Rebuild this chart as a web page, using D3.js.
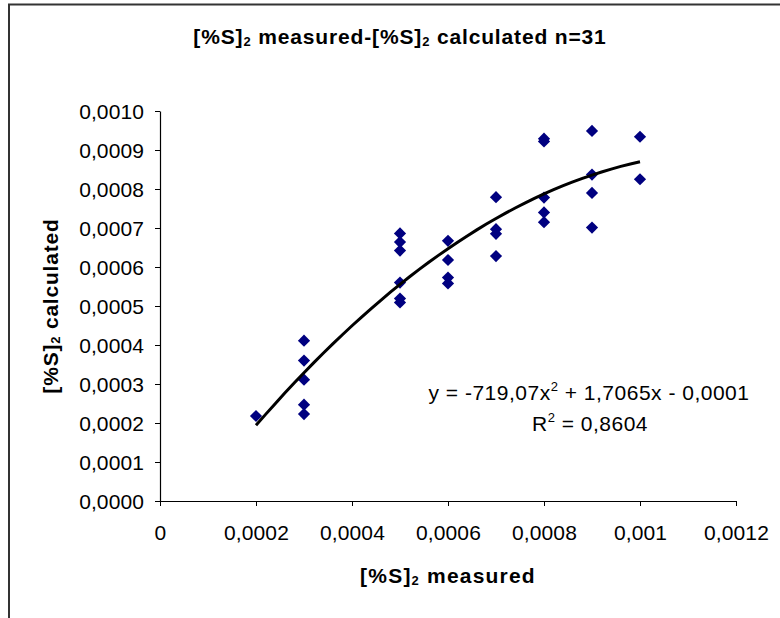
<!DOCTYPE html>
<html>
<head>
<meta charset="utf-8">
<script src="https://cdn.jsdelivr.net/npm/d3@7"></script>
<style>
  body { margin: 0; background: #fff; }
  text { font-family: "Liberation Sans", Arial, sans-serif; fill: #000; }
</style>
</head>
<body>
<div id="chart"></div>
<script>
// measured values (x) and calculated values (y), n = 31
var measured = [
    0.0002,
    0.0003, 0.0003, 0.0003, 0.0003, 0.0003,
    0.0005, 0.0005, 0.0005, 0.0005, 0.0005, 0.0005,
    0.0006, 0.0006, 0.0006, 0.0006,
    0.0007, 0.0007, 0.0007, 0.0007,
    0.0008, 0.0008, 0.0008, 0.0008, 0.0008,
    0.0009, 0.0009, 0.0009, 0.0009,
    0.001, 0.001
];
var calculated = [
    0.000218,
    0.000411, 0.000360, 0.000311, 0.000247, 0.000223,
    0.000686, 0.000664, 0.000642, 0.000560, 0.000519, 0.000509,
    0.000667, 0.000618, 0.000573, 0.000558,
    0.000779, 0.000697, 0.000685, 0.000628,
    0.000929, 0.000922, 0.000778, 0.000740, 0.000715,
    0.000949, 0.000837, 0.000790, 0.000701,
    0.000934, 0.000825
];
var xTicks = [0, 0.0002, 0.0004, 0.0006, 0.0008, 0.001, 0.0012];
var xTickLabels = ["0", "0,0002", "0,0004", "0,0006", "0,0008", "0,001", "0,0012"];
var yTicks = [0, 0.0001, 0.0002, 0.0003, 0.0004, 0.0005, 0.0006, 0.0007, 0.0008, 0.0009, 0.001];
var yTickLabels = ["0,0000", "0,0001", "0,0002", "0,0003", "0,0004", "0,0005",
    "0,0006", "0,0007", "0,0008", "0,0009", "0,0010"];
var equationText = ["y = -719,07x", "2", " + 1,7065x - 0,0001"];
var r2Text = ["R", "2", " = 0,8604"];

var W = 780, H = 618;
var margin = { top: 111, right: 44, bottom: 117, left: 160 },
    width = W - margin.left - margin.right,
    height = H - margin.top - margin.bottom;

var svgRoot = d3.select("#chart")
    .append("svg")
    .attr("width", W)
    .attr("height", H);

// chart area border (only left and top edges fall inside the picture)
svgRoot.append("rect")
    .attr("x", 9)
    .attr("y", 4.5)
    .attr("width", 900)
    .attr("height", 900)
    .attr("fill", "none")
    .attr("stroke", "#333")
    .attr("stroke-width", 2);

var svg = svgRoot.append("g")
    .attr("transform", "translate(" + margin.left + "," + margin.top + ")");

var x = d3.scaleLinear().domain([0, 0.0012]).range([0, width]);
var y = d3.scaleLinear().domain([0, 0.001]).range([height, 0]);

// axes
var xAxis = svg.append("g")
    .attr("transform", "translate(0," + height + ")")
    .call(d3.axisBottom(x).tickValues(xTicks).tickSize(5).tickSizeOuter(0)
        .tickFormat(function (d, i) { return xTickLabels[i]; }));
var yAxis = svg.append("g")
    .call(d3.axisLeft(y).tickValues(yTicks).tickSize(5).tickSizeOuter(0)
        .tickFormat(function (d, i) { return yTickLabels[i]; }));

[xAxis, yAxis].forEach(function (a) {
    a.select(".domain").attr("stroke", "#000").attr("stroke-width", 1.2);
    a.selectAll(".tick line").attr("stroke", "#000");
    a.selectAll(".tick text")
        .style("font-family", "'Liberation Sans', Arial, sans-serif")
        .style("font-size", "21px")
        .style("letter-spacing", "0.1px")
        .attr("fill", "#000");
});
yAxis.selectAll(".tick text").attr("x", -16).attr("dy", "0.35em");
xAxis.selectAll(".tick text").attr("y", 24).attr("dy", "0.71em");

// quadratic least-squares fit (excel polynomial trendline)
function polyFit2(xs, ys) {
    var s = [0, 0, 0, 0, 0], t = [0, 0, 0];
    xs.forEach(function (xv, i) {
        var u = xv * 1000, p = 1;
        for (var k = 0; k < 5; k++) { s[k] += p; if (k < 3) t[k] += p * ys[i]; p *= u; }
    });
    var A = [[s[0], s[1], s[2], t[0]], [s[1], s[2], s[3], t[1]], [s[2], s[3], s[4], t[2]]];
    for (var c = 0; c < 3; c++) {
        for (var r = c + 1; r < 3; r++) {
            var f = A[r][c] / A[c][c];
            for (var j = c; j < 4; j++) A[r][j] -= f * A[c][j];
        }
    }
    var b = [0, 0, 0];
    for (var r2 = 2; r2 >= 0; r2--) {
        var sum = A[r2][3];
        for (var j2 = r2 + 1; j2 < 3; j2++) sum -= A[r2][j2] * b[j2];
        b[r2] = sum / A[r2][r2];
    }
    return function (xv) { var u = xv * 1000; return b[0] + b[1] * u + b[2] * u * u; };
}
var fit = polyFit2(measured, calculated);
var xMin = d3.min(measured), xMax = d3.max(measured);
var trendX = d3.range(0, 41).map(function (i) { return xMin + (xMax - xMin) * i / 40; });

// points
svg.selectAll(".dot")
    .data(measured)
    .enter()
    .append("path")
    .attr("class", "dot")
    .attr("d", d3.symbol().type(d3.symbolDiamond2).size(95))
    .attr("transform", function (d, i) {
        return "translate(" + x(d) + "," + y(calculated[i]) + ")";
    })
    .attr("fill", "#000080");

// trend line
svg.append("path")
    .datum(trendX)
    .attr("d", d3.line().x(function (d) { return x(d); }).y(function (d) { return y(fit(d)); }))
    .attr("fill", "none")
    .attr("stroke", "#000")
    .attr("stroke-width", 3);

// equation + R2
function supText(sel, parts, size) {
    sel.append("tspan").text(parts[0]);
    sel.append("tspan").text(parts[1]).style("font-size", (size * 0.62) + "px").attr("dy", -9);
    sel.append("tspan").text(parts[2]).attr("dy", 9);
}
var eq = svgRoot.append("text")
    .attr("x", 589).attr("y", 400)
    .attr("text-anchor", "middle")
    .style("font-size", "21px").style("letter-spacing", "0.5px");
supText(eq, equationText, 21);
var r2 = svgRoot.append("text")
    .attr("x", 590).attr("y", 431)
    .attr("text-anchor", "middle")
    .style("font-size", "21px").style("letter-spacing", "0.5px");
supText(r2, r2Text, 21);

// labels with subscript 2
function subLabel(sel, before, after) {
    sel.append("tspan").text(before);
    sel.append("tspan").text("2").style("font-size", "13px").attr("dy", 2);
    sel.append("tspan").text(after).attr("dy", -2);
}
var title = svgRoot.append("text")
    .attr("x", 400).attr("y", 44)
    .attr("text-anchor", "middle")
    .style("font-size", "21px").style("font-weight", "bold").style("letter-spacing", "0.85px");
title.append("tspan").text("[%S]");
title.append("tspan").text("2").style("font-size", "13px").attr("dy", 2);
title.append("tspan").text(" measured-[%S]").attr("dy", -2);
title.append("tspan").text("2").style("font-size", "13px").attr("dy", 2);
title.append("tspan").text(" calculated n=31").attr("dy", -2);

var xTitle = svgRoot.append("text")
    .attr("x", 448).attr("y", 583)
    .attr("text-anchor", "middle")
    .style("font-size", "21px").style("font-weight", "bold").style("letter-spacing", "1.2px");
subLabel(xTitle, "[%S]", " measured");

var yTitle = svgRoot.append("text")
    .attr("transform", "translate(58,306) rotate(-90)")
    .attr("text-anchor", "middle")
    .style("font-size", "21px").style("font-weight", "bold").style("letter-spacing", "0.8px");
subLabel(yTitle, "[%S]", " calculated");
</script>
</body>
</html>
